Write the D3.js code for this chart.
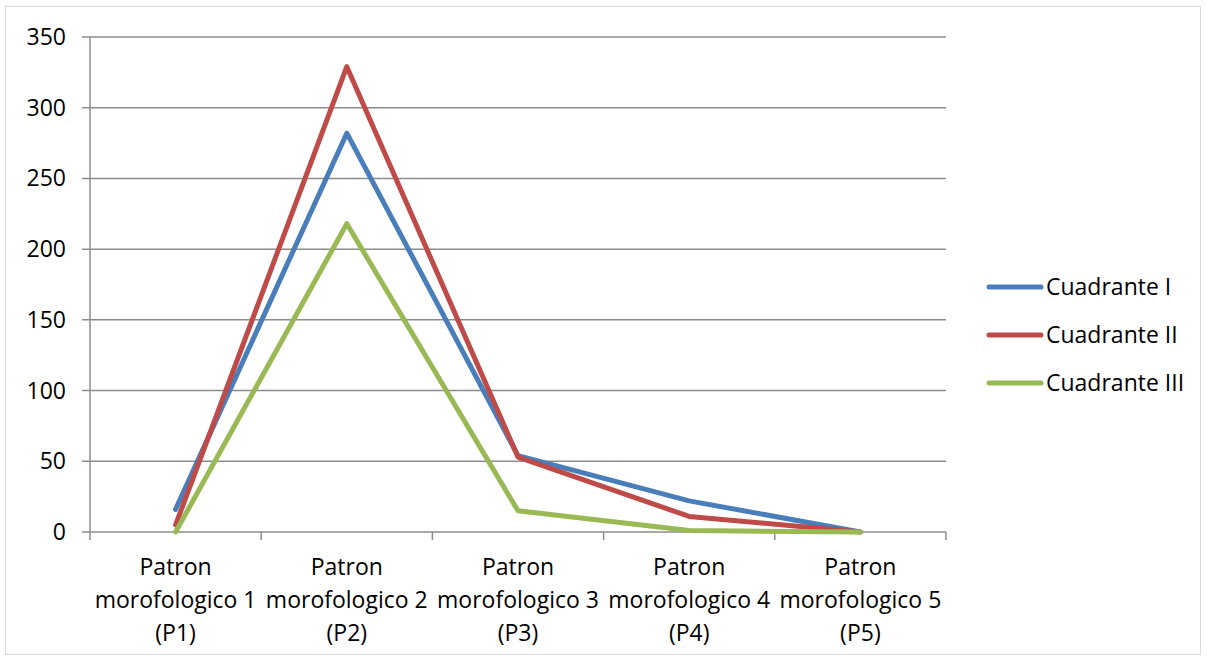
<!DOCTYPE html>
<html><head><meta charset="utf-8">
<script src="https://cdn.jsdelivr.net/npm/d3@7"></script>
<style>body{margin:0;background:#fff;}svg{display:block;}text{font-family:"Open Sans","Liberation Sans",sans-serif;fill:#000;}</style>
</head><body>
<svg id="c" width="1207" height="659"></svg>
<script>
const categories = [["Patron","morofologico 1","(P1)"],["Patron","morofologico 2","(P2)"],["Patron","morofologico 3","(P3)"],["Patron","morofologico 4","(P4)"],["Patron","morofologico 5","(P5)"]];
const seriesNames = ["Cuadrante I","Cuadrante II","Cuadrante III"];
const cuadranteI = [16, 282, 54, 22, 0];
const cuadranteII = [5, 329, 53, 11, 0];
const cuadranteIII = [0, 218, 15, 1, 0];
const yTicks = [0,50,100,150,200,250,300,350];
const colors = ["#4A7EBB","#BE4B48","#98B954"];
const series = [cuadranteI, cuadranteII, cuadranteIII];

const svg = d3.select("#c");
svg.append("rect").attr("x",5.5).attr("y",6.5).attr("width",1195).attr("height",648).attr("fill","#fff").attr("stroke","#d9d9d9");

const L=90,R=946,T=37,B=532;
const x = d3.scaleBand().domain(d3.range(categories.length)).range([L,R]);
const y = d3.scaleLinear().domain([0,350]).range([B,T]);

svg.append("g").selectAll("line").data(yTicks).join("line")
  .attr("x1",L-8).attr("x2",R).attr("y1",d=>y(d)).attr("y2",d=>y(d))
  .attr("stroke","#8c8c8c").attr("stroke-width",1.5);
svg.append("line").attr("x1",L).attr("x2",L).attr("y1",T).attr("y2",B).attr("stroke","#8c8c8c").attr("stroke-width",1.5);
const xt = d3.range(categories.length+1).map(i=>L+i*x.step());
svg.append("g").selectAll("line").data(xt).join("line")
  .attr("x1",d=>d).attr("x2",d=>d).attr("y1",B).attr("y2",B+8).attr("stroke","#8c8c8c").attr("stroke-width",1.5);
svg.append("g").selectAll("text").data(yTicks).join("text")
  .attr("x",66).attr("y",d=>y(d)).attr("dy","0.35em").attr("text-anchor","end").attr("font-size",23).text(d=>d);
const xl = svg.append("g").selectAll("text").data(categories).join("text")
  .attr("x",(d,i)=>x(i)+x.bandwidth()/2).attr("y",575).attr("text-anchor","middle").attr("font-size",23);
xl.selectAll("tspan").data(d=>d).join("tspan").attr("x",function(){return this.parentNode.getAttribute("x");})
  .attr("dy",(d,i)=>i===0?0:33).text(d=>d);

const line = d3.line().x((d,i)=>x(i)+x.bandwidth()/2).y(d=>y(d));
series.forEach((s,k)=>{
  svg.append("path").attr("d",line(s)).attr("fill","none").attr("stroke",colors[k]).attr("stroke-width",5)
    .attr("stroke-linejoin","round").attr("stroke-linecap","round");
});
const lg = svg.append("g");
seriesNames.forEach((n,k)=>{
  const yy = 287 + k*48;
  lg.append("line").attr("x1",989).attr("x2",1041).attr("y1",yy).attr("y2",yy).attr("stroke",colors[k]).attr("stroke-width",5).attr("stroke-linecap","round");
  lg.append("text").attr("x",1046).attr("y",yy).attr("dy","0.35em").attr("font-size",23).text(n);
});
</script>
</body></html>
